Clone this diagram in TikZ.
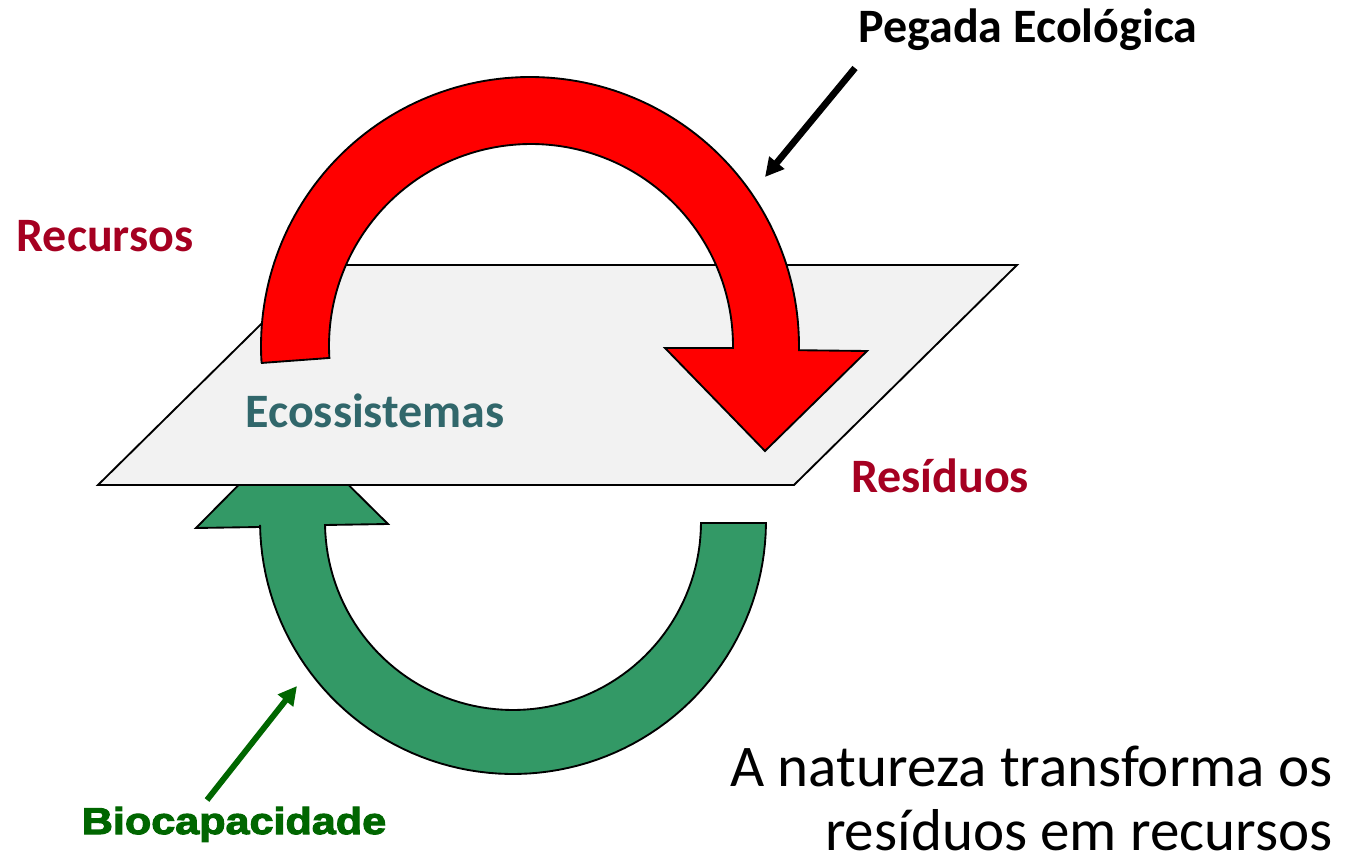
\documentclass[tikz,border=0pt]{standalone}
\usepackage{fontspec}
\setmainfont{Carlito}
\newfontfamily\blackfont[FakeStretch=1.155,FakeBold=3]{Liberation Sans}
\definecolor{redlabel}{HTML}{A50021}
\definecolor{tealtext}{HTML}{31676B}
\definecolor{plane}{HTML}{F2F2F2}
\definecolor{greenband}{HTML}{339966}
\definecolor{darkgr}{HTML}{006600}
\usetikzlibrary{arrows.meta}
\tikzset{
  band/.style={draw=black,line width=1.4pt,line join=miter},
  label/.style={font=\bfseries\fontsize{36}{42}\selectfont,inner sep=0pt},
  bigtext/.style={anchor=base east,inner sep=0pt,font=\fontsize{44.3}{52}\selectfont},
  pointer/.style={line width=4.4pt,-{Triangle[length=14pt,width=14pt]}},
}
\begin{document}
\begin{tikzpicture}[x=0.75pt,y=-0.75pt]
\useasboundingbox (0,0) rectangle (1361,856);
% green arrow behind the plane
\draw[band,fill=greenband]
  (766,523)
  -- plot[domain=-0.6:-179.1,samples=80] ({513+253*cos(\x)},{521-253*sin(\x)})
  -- (260,527) -- (196,528) -- (293,430) -- (388,524) -- (325,525)
  -- plot[domain=-179:-0.3,samples=80] ({513+188*cos(\x)},{522-188*sin(\x)})
  -- cycle;
% plane
\draw[band,fill=plane] (98,485) -- (794,485) -- (1017,265) -- (321,265) -- cycle;
% red arrow
\draw[band,fill=red]
  (261,363)
  -- plot[domain=183.6:-0.9,samples=120] ({530+269*cos(\x)},{346-269*sin(\x)})
  -- (867,351) -- (765,451) -- (665,348) -- (733,348)
  -- plot[domain=-0.5:183.4,samples=120] ({531+202*cos(\x)},{346-202*sin(\x)})
  -- cycle;
% labels
\node[label,anchor=base,text=black] (pegada) at (1028,43) {Pegada Ecológica};
\node[label,anchor=base,text=redlabel] (recursos) at (105,251) {Recursos};
\node[label,anchor=base,text=redlabel] (residuos) at (940,492) {Resíduos};
\node[label,anchor=base,text=tealtext] (eco) at (375,427) {Ecossistemas};
\node[anchor=base,inner sep=0pt,text=darkgr,font=\blackfont\bfseries\fontsize{28}{32}\selectfont] (bio) at (234,834) {Biocapacidade};
\node[bigtext] (line1) at (1333,786) {A natureza transforma os};
\node[bigtext] (line2) at (1333,850) {resíduos em recursos};
% pointers
\coordinate (pegStart) at (855,68);
\coordinate (pegEnd) at (765,177);
\coordinate (bioStart) at (207,800);
\coordinate (bioEnd) at (297,686);
\draw[pointer,black,line width=5pt] (pegStart) -- (pegEnd);
\draw[pointer,darkgr] (bioStart) -- (bioEnd);
\end{tikzpicture}
\end{document}
